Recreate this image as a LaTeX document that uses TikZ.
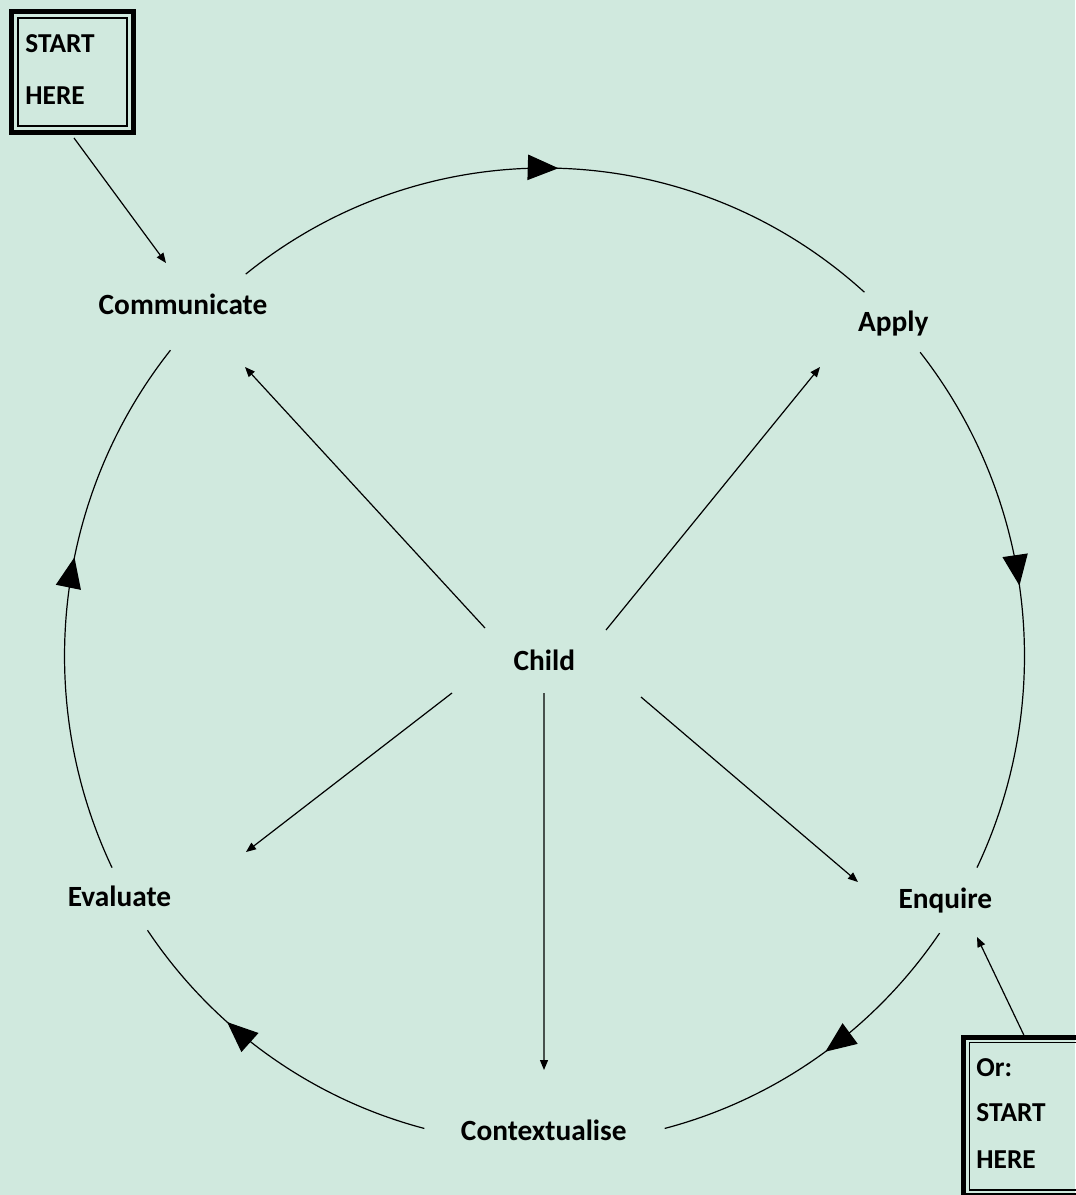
\documentclass[tikz,border=0pt]{standalone}
\usepackage{fontspec}
\setmainfont{Carlito}
\usetikzlibrary{arrows.meta,decorations.markings,calc}
\definecolor{bgmint}{RGB}{208,233,222}
\begin{document}
\begin{tikzpicture}[x=0.75pt,y=-0.75pt,
  lbl/.style={font=\fontsize{22}{26}\selectfont\bfseries, inner sep=0pt, anchor=base},
  boxtxt/.style={font=\fontsize{20.5}{24}\selectfont\bfseries, inner sep=0pt, anchor=base west},
  startbox/.style={draw, line width=3.9pt, inner sep=0pt, outer sep=0pt},
  innerline/.style={draw, line width=1.1pt},
  spoke/.style={line width=0.9pt, -{Triangle[length=7.5pt,width=6pt]}},
  cyc/.style={line width=0.9pt},
  flowmark/.style={postaction=decorate, decoration={markings, mark=at position #1 with {\arrow{Triangle[length=23pt,width=19pt]}}}}
]
\fill[bgmint] (0,0) rectangle (1075,1195);
\useasboundingbox (0,0) rectangle (1075,1195);

% labels
\node[lbl] (child) at (544.3,670) {Child};
\node[lbl] (comm) at (183,314) {Communicate};
\node[lbl] (apply) at (893.3,331.7) {Apply};
\node[lbl] (enq) at (945.3,908.3) {Enquire};
\node[lbl] (ctx) at (543.8,1140) {Contextualise};
\node[lbl] (eval) at (119.5,906.7) {Evaluate};

% start boxes
\node[startbox, minimum width=91.3pt, minimum height=90.5pt] (s1) at (72.65,72.15) {};
\draw[innerline] ([shift={(6.2,6.2)}]s1.north west) rectangle ([shift={(-6.5,-6.5)}]s1.south east);
\node[boxtxt] (s1a) at (25.2,52.7) {START};
\node[boxtxt] (s1b) at (25.2,105) {HERE};

\node[startbox, minimum width=109.9pt, minimum height=118.3pt] (s2) at (1036.75,1116.35) {};
\draw[innerline] ([shift={(5.8,5.2)}]s2.north west) rectangle ([shift={(-6,-5.2)}]s2.south east);
\node[boxtxt] (s2a) at (976.2,1076) {Or:};
\node[boxtxt] (s2b) at (976.2,1121.7) {START};
\node[boxtxt] (s2c) at (976.2,1168.3) {HERE};

% cycle arcs
\coordinate (O) at (544.5,656);
\draw[cyc,flowmark=0.5] ($(O)+(231.5:480 and 488)$) arc[start angle=231.5,end angle=311.8,x radius=480,y radius=488];
\draw[cyc,flowmark=0.47] ($(O)+(-38.5:480 and 488)$) arc[start angle=-38.5,end angle=25.7,x radius=480,y radius=488];
\draw[cyc,flowmark=0.48] ($(O)+(34.6:480 and 488)$) arc[start angle=34.6,end angle=75.5,x radius=480,y radius=488];
\draw[cyc,flowmark=0.65] ($(O)+(104.5:480 and 488)$) arc[start angle=104.5,end angle=145.8,x radius=480,y radius=488];
\draw[cyc,flowmark=0.58] ($(O)+(154.3:480 and 488)$) arc[start angle=154.3,end angle=218.8,x radius=480,y radius=488];

% spokes from child
\draw[spoke] ([shift={(-59.3,-42)}]child.base) -- ([shift={(62,53)}]comm.base);
\draw[spoke] ([shift={(61.7,-40)}]child.base) -- ([shift={(-73.3,35.3)}]apply.base);
\draw[spoke] ([shift={(-92.3,23)}]child.base) -- ([shift={(126.5,-54.7)}]eval.base);
\draw[spoke] ([shift={(-0.3,23)}]child.base) -- ([shift={(0.2,-70)}]ctx.base);
\draw[spoke] ([shift={(96.7,27)}]child.base) -- ([shift={(-87.3,-26.3)}]enq.base);

% start arrows
\draw[spoke] ([shift={(1.35,5.5)}]s1.south) -- ([shift={(-17,-51)}]comm.base);
\draw[spoke] ([shift={(-11.75,0)}]s2.north) -- ([shift={(31.7,28.7)}]enq.base);
\end{tikzpicture}
\end{document}
